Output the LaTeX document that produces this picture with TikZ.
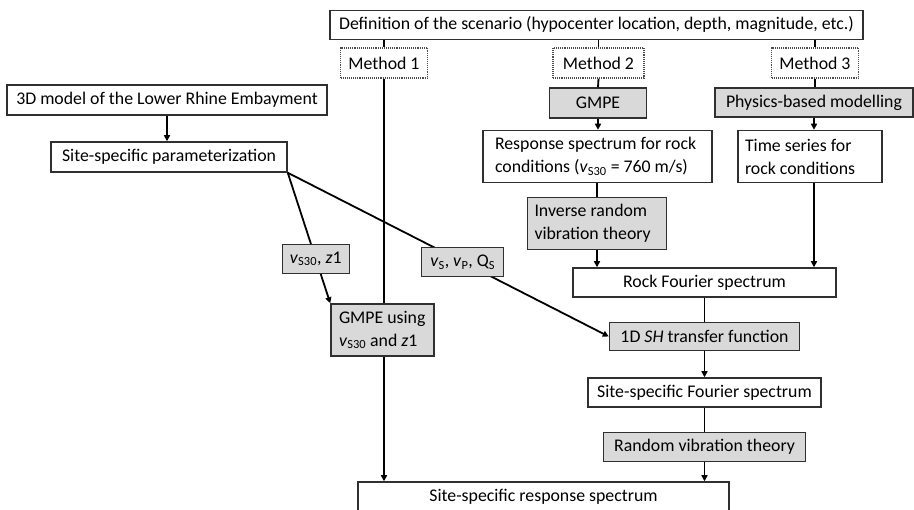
\documentclass[tikz,border=0pt]{standalone}
\usepackage{fontspec}
\setmainfont{Carlito}
\usepackage{tikz}
\usetikzlibrary{shapes,arrows.meta,positioning,calc,backgrounds}
\definecolor{boxgray}{HTML}{D9D9D9}
\definecolor{edgegray}{HTML}{303030}

\begin{document}
\begin{tikzpicture}[
    x=1pt, y=-1pt,
    font=\fontsize{17.8}{23}\selectfont,
    box/.style={rectangle, draw=edgegray, line width=1.5pt, fill=white, inner sep=0pt, minimum height=29pt},
    proc/.style={box, fill=boxgray},
    meth/.style={rectangle, draw=black!70, densely dotted, line width=1.1pt, fill=white, inner sep=0pt, minimum height=30pt},
    multi/.style={align=flush left, inner xsep=7pt, minimum height=52pt},
    link/.style={draw, line width=1.8pt},
    arrow/.style={link, -{Triangle[length=6pt,width=6pt]}}
]
\useasboundingbox (0,0) rectangle (914,510);

\node [box, minimum width=533pt] (scen) at (596.5,25) {Definition of the scenario (hypocenter location, depth, magnitude, etc.)};
\node [meth, minimum width=87pt] (m1) at (384,63) {Method 1};
\node [meth, minimum width=91pt] (m2) at (598.5,63) {Method 2};
\node [meth, minimum width=87pt] (m3) at (815,63) {Method 3};

\node [box, minimum width=320pt, minimum height=30pt] (model) at (167,100) {3D model of the Lower Rhine Embayment};
\node [box, minimum width=236pt, minimum height=30pt] (param) at (169,157) {Site-specific parameterization};

\node [proc, minimum width=97pt, minimum height=30pt] (gmpe) at (598,103) {GMPE};
\node [box, multi, inner xsep=12pt, text width=205pt] (resp) at (597.5,156.5) {Response spectrum for rock\\conditions (\textit{v}\textsubscript{S30} = 760 m/s)};
\node [proc, multi, text width=125pt] (irvt) at (597,223.5) {Inverse random\\vibration theory};

\node [proc, minimum width=198pt] (phys) at (814,102.5) {Physics-based modelling};
\node [box, multi, inner xsep=7pt, text width=130pt] (ts) at (810,156.5) {Time series for\\rock conditions};

\node [box, minimum width=263pt] (rock) at (704.5,282.5) {Rock Fourier spectrum};
\node [proc, minimum width=190pt, minimum height=28pt, below=24pt of rock] (sh) {1D \textit{SH} transfer function};
\node [box, minimum width=233pt, below=26pt of sh] (sff) {Site-specific Fourier spectrum};
\node [proc, minimum width=202pt, below=24pt of sff] (rvt) {Random vibration theory};
\node [box, minimum width=371pt, minimum height=30pt] (ssrs) at (543.5,497) {Site-specific response spectrum};

\node [proc, multi, inner xsep=8pt, text width=87pt] (gmpez) at (382.5,330) {GMPE using\\\textit{v}\textsubscript{S30} and \textit{z}1};

\begin{scope}[on background layer]
\draw [arrow] (m1.south) -- (m1.south |- ssrs.north);
\end{scope}

\draw [link] (scen.south -| m1.north) -- (m1.north);
\draw [link] (scen.south -| m2.north) -- (m2.north);
\draw [link] (scen.south -| m3.north) -- (m3.north);

\draw [arrow] (model.south) -- (model.south |- param.north);
\draw [arrow] (param.south east) -- node[proc, pos=0.66, minimum width=67pt] (vsz) {\textit{v}\textsubscript{S30}, \textit{z}1} (gmpez.north west);
\draw [arrow] (param.south east) -- node[proc, pos=0.545, minimum width=82pt] (vvq) {\textit{v}\textsubscript{S}, \textit{v}\textsubscript{P}, Q\textsubscript{S}} (sh.west);

\draw [link] (m2.south) -- (gmpe.north);
\draw [arrow] (gmpe.south) -- (gmpe.south |- resp.north);
\draw [link] (irvt.north |- resp.south) -- (irvt.north);
\draw [arrow] (irvt.south) -- (irvt.south |- rock.north);

\draw [link] (m3.south) -- (m3.south |- phys.north);
\draw [arrow] (phys.south) -- (phys.south |- ts.north);
\draw [arrow] (phys.south |- ts.south) -- (phys.south |- rock.north);

\draw [link] (rock.south) -- (sh.north);
\draw [arrow] (sh.south) -- (sff.north);
\draw [link] (sff.south) -- (rvt.north);
\draw [arrow] (rvt.south) -- (rvt.south |- ssrs.north);

\end{tikzpicture}
\end{document}
